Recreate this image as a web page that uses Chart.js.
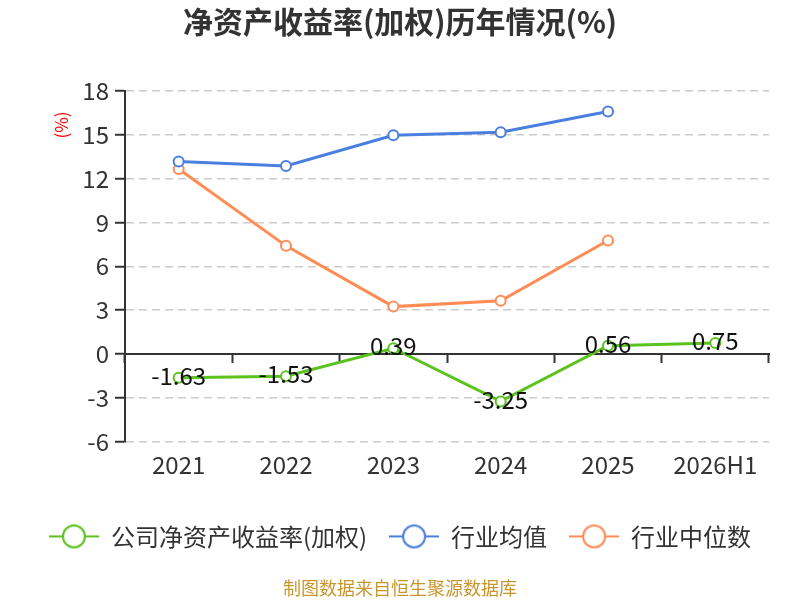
<!DOCTYPE html>
<html>
<head>
<meta charset="utf-8">
<script src="https://cdn.jsdelivr.net/npm/chart.js@4.4.1/dist/chart.umd.min.js"></script>
<style>
  html, body { margin: 0; padding: 0; background: #fff; }
  #wrap { width: 800px; height: 600px; }
</style>
</head>
<body>
<div id="wrap"><canvas id="roeChart" width="800" height="600"></canvas></div>
<script>
// data
var years = ["2021", "2022", "2023", "2024", "2025", "2026H1"];
var companyRoe = [-1.63, -1.53, 0.39, -3.25, 0.56, 0.75];
var industryAvg = [13.17, 12.87, 14.97, 15.18, 16.6, null];
var industryMedian = [12.66, 7.4, 3.24, 3.64, 7.77, null];
var seriesNames = ["公司净资产收益率(加权)", "行业均值", "行业中位数"];
var seriesColors = ["#5bc21e", "#4a7fe0", "#ff8c55"];
var yTicks = [-6, -3, 0, 3, 6, 9, 12, 15, 18];

var FONT = "'Noto Sans CJK SC', 'Noto Sans', sans-serif";

// legend marker: short line with a hollow circle
function makeMarker(color) {
  var c = document.createElement("canvas");
  c.width = 50; c.height = 26;
  var g = c.getContext("2d");
  g.strokeStyle = color;
  g.lineWidth = 2;
  g.beginPath(); g.moveTo(0, 13); g.lineTo(50, 13); g.stroke();
  g.beginPath(); g.arc(25, 13, 11, 0, Math.PI * 2);
  g.fillStyle = "#fff"; g.fill(); g.stroke();
  return c;
}
var markers = seriesColors.map(makeMarker);

// values printed on the company line
var valueLabels = {
  id: "valueLabels",
  afterDatasetsDraw: function (chart) {
    var meta = chart.getDatasetMeta(0);
    var ctx = chart.ctx;
    ctx.save();
    ctx.font = "24px " + FONT;
    ctx.fillStyle = "#111";
    ctx.textAlign = "center";
    ctx.textBaseline = "middle";
    meta.data.forEach(function (pt, i) {
      ctx.fillText(companyRoe[i].toFixed(2), pt.x, pt.y - 2);
    });
    ctx.restore();
  }
};

// red unit mark beside the y axis
var unitMark = {
  id: "unitMark",
  afterDraw: function (chart) {
    var ctx = chart.ctx;
    ctx.save();
    ctx.translate(62, 125);
    ctx.rotate(-Math.PI / 2);
    ctx.font = "17px " + FONT;
    ctx.fillStyle = "#ff0000";
    ctx.textAlign = "center";
    ctx.textBaseline = "middle";
    ctx.fillText("(%)", 0, 0);
    ctx.restore();
  }
};

function lineSet(label, data, color) {
  return {
    label: label,
    data: data,
    borderColor: color,
    backgroundColor: color,
    borderWidth: 3,
    pointRadius: 5,
    pointHoverRadius: 5,
    pointBorderWidth: 2,
    pointBackgroundColor: "#fff",
    pointBorderColor: color,
    tension: 0,
    spanGaps: false
  };
}

var ctx = document.getElementById("roeChart").getContext("2d");
var roeChart = new Chart(ctx, {
  type: "line",
  data: {
    labels: years,
    datasets: [
      lineSet(seriesNames[0], companyRoe, seriesColors[0]),
      lineSet(seriesNames[1], industryAvg, seriesColors[1]),
      lineSet(seriesNames[2], industryMedian, seriesColors[2])
    ]
  },
  options: {
    responsive: false,
    animation: false,
    devicePixelRatio: 1,
    layout: { padding: 0 },
    plugins: {
      tooltip: { enabled: false },
      title: {
        display: true,
        text: "净资产收益率(加权)历年情况(%)",
        color: "#333",
        font: { family: FONT, size: 30, weight: "bold" },
        padding: { top: 4, bottom: 51 }
      },
      legend: {
        position: "bottom",
        labels: {
          usePointStyle: true,
          pointStyleWidth: 50,
          padding: 22,
          color: "#333",
          font: { family: FONT, size: 24 },
          generateLabels: function (chart) {
            var items = Chart.defaults.plugins.legend.labels.generateLabels(chart);
            items.forEach(function (it) { it.pointStyle = markers[it.datasetIndex]; });
            return items;
          }
        }
      },
      subtitle: {
        display: true,
        position: "bottom",
        text: "制图数据来自恒生聚源数据库",
        color: "#c8962e",
        font: { family: FONT, size: 18 },
        padding: { top: 19, bottom: 1 }
      }
    },
    scales: {
      x: {
        type: "category",
        offset: true,
        grid: { display: false, drawTicks: false },
        border: { display: false },
        ticks: { color: "#333", font: { family: FONT, size: 24 }, padding: 9 },
        afterFit: function (axis) { axis.height += 14; }
      },
      xZero: {
        type: "category",
        position: { y: 0 },
        offset: true,
        grid: {
          offset: true,
          drawOnChartArea: false,
          drawTicks: true,
          tickLength: 8,
          tickColor: "#333",
          tickWidth: 2
        },
        border: { display: true, color: "#333", width: 2 },
        ticks: { display: false }
      },
      y: {
        min: -6,
        max: 18,
        afterBuildTicks: function (axis) {
          axis.ticks = yTicks.map(function (v) { return { value: v }; });
        },
        afterFit: function (axis) { axis.width = 125; },
        grid: {
          color: function (c) { return c.tick && c.tick.value === 0 ? "rgba(0,0,0,0)" : "#cccccc"; },
          lineWidth: 1.5,
          tickColor: "#333",
          tickLength: 10,
          tickWidth: 2,
          drawTicks: true
        },
        // in v4 border.dash styles the grid lines, the axis line stays solid
        border: { display: true, color: "#333", width: 2, dash: [8, 5] },
        ticks: {
          color: "#333",
          font: { family: FONT, size: 24 },
          padding: 6
        }
      },
      // empty right axis only keeps a margin so the plot ends near x=769
      yPad: {
        position: "right",
        display: true,
        grid: { display: false, drawTicks: false },
        border: { display: false },
        ticks: { display: false },
        afterFit: function (axis) { axis.width = 31; }
      }
    }
  },
  plugins: [valueLabels, unitMark]
});
</script>
</body>
</html>
